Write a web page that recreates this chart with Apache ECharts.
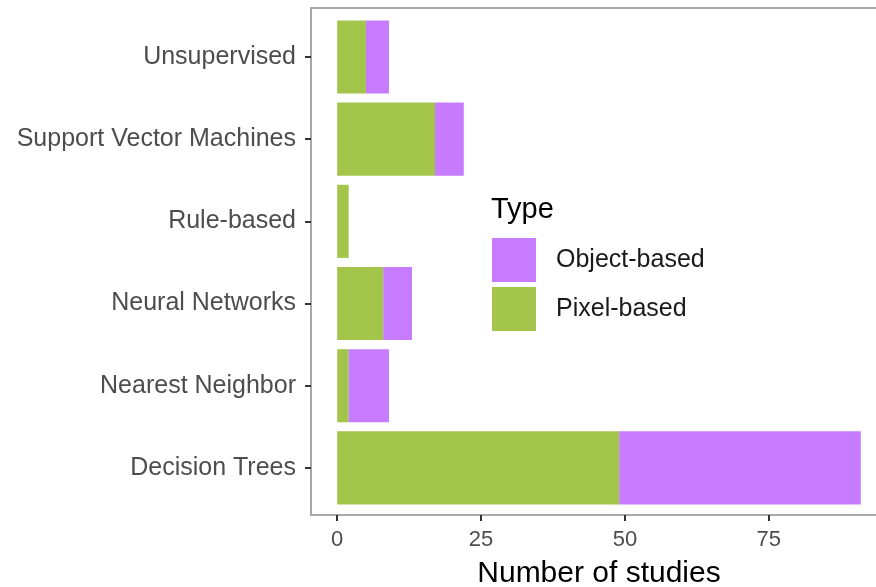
<!DOCTYPE html>
<html>
<head>
<meta charset="utf-8">
<script src="https://cdn.jsdelivr.net/npm/echarts@6/dist/echarts.min.js"></script>
<style>html,body{margin:0;padding:0;background:#fff;overflow:hidden;}#c{width:876px;height:587px;}</style>
</head>
<body>
<div id="c"></div>
<script>
var categories = ['Decision Trees','Nearest Neighbor','Neural Networks','Rule-based','Support Vector Machines','Unsupervised'];
var pixelBased = [49, 2, 8, 2, 17, 5];
var objectBased = [42, 7, 5, 0, 5, 4];
var xTicks = [0, 25, 50, 75];
var seriesNames = ['Object-based', 'Pixel-based'];

var FONT = "'Liberation Sans', Arial, Helvetica, sans-serif";
var xMin = -4.55, xMax = 95.55;
function frameLine() { return {show: true, onZero: false, lineStyle: {color: '#a8a8a8', width: 2}}; }

var chart = echarts.init(document.getElementById('c'), null, {renderer: 'canvas'});
chart.setOption({
  animation: false,
  backgroundColor: '#ffffff',
  title: {
    text: 'Type', left: 486, top: 190,
    textStyle: {fontFamily: FONT, fontSize: 29, fontWeight: 'normal', color: '#000'}
  },
  legend: {
    data: seriesNames,
    orient: 'vertical', left: 487, top: 233,
    itemWidth: 44, itemHeight: 44, itemGap: 5, icon: 'rect',
    textStyle: {fontFamily: FONT, fontSize: 25, color: '#1a1a1a', padding: [0, 0, 0, 15]}
  },
  grid: [
    {left: 311, width: 576, top: 15.9, bottom: 78, show: false, containLabel: false, outerBoundsMode: 'none'},
    {left: 311, width: 576, top: 8, bottom: 72, show: false, containLabel: false, outerBoundsMode: 'none'}
  ],
  xAxis: [
    {type: 'value', gridIndex: 0, min: xMin, max: xMax, show: false},
    {type: 'value', gridIndex: 1, min: xMin, max: xMax, position: 'bottom',
     axisLine: frameLine(), splitLine: {show: false},
     axisTick: {show: true, length: 6, customValues: xTicks, lineStyle: {color: '#333', width: 2}},
     axisLabel: {customValues: xTicks, margin: 14, fontFamily: FONT, fontSize: 22, color: '#4d4d4d'},
     name: 'Number of studies', nameLocation: 'middle', nameGap: 44,
     nameTextStyle: {fontFamily: FONT, fontSize: 30, color: '#000'}
    },
    {type: 'value', gridIndex: 1, min: xMin, max: xMax, position: 'top',
     axisLine: frameLine(), axisTick: {show: false}, axisLabel: {show: false}, splitLine: {show: false}}
  ],
  yAxis: [
    {type: 'category', gridIndex: 0, data: categories,
     axisLine: {show: false, onZero: false}, splitLine: {show: false},
     axisTick: {show: true, alignWithLabel: true, length: 6, lineStyle: {color: '#333', width: 2}},
     axisLabel: {margin: 15, fontFamily: FONT, fontSize: 25, color: '#4d4d4d'}
    },
    {type: 'value', gridIndex: 1, position: 'left', min: 0, max: 1,
     axisLine: frameLine(), axisTick: {show: false}, axisLabel: {show: false}, splitLine: {show: false}}
  ],
  series: [
    {name: 'Pixel-based', type: 'bar', stack: 's', data: pixelBased, barWidth: '89%',
     xAxisIndex: 0, yAxisIndex: 0, itemStyle: {color: '#a4c54c'}},
    {name: 'Object-based', type: 'bar', stack: 's', data: objectBased, barWidth: '89%',
     xAxisIndex: 0, yAxisIndex: 0, itemStyle: {color: '#c77cff'}}
  ]
});
</script>
</body>
</html>
